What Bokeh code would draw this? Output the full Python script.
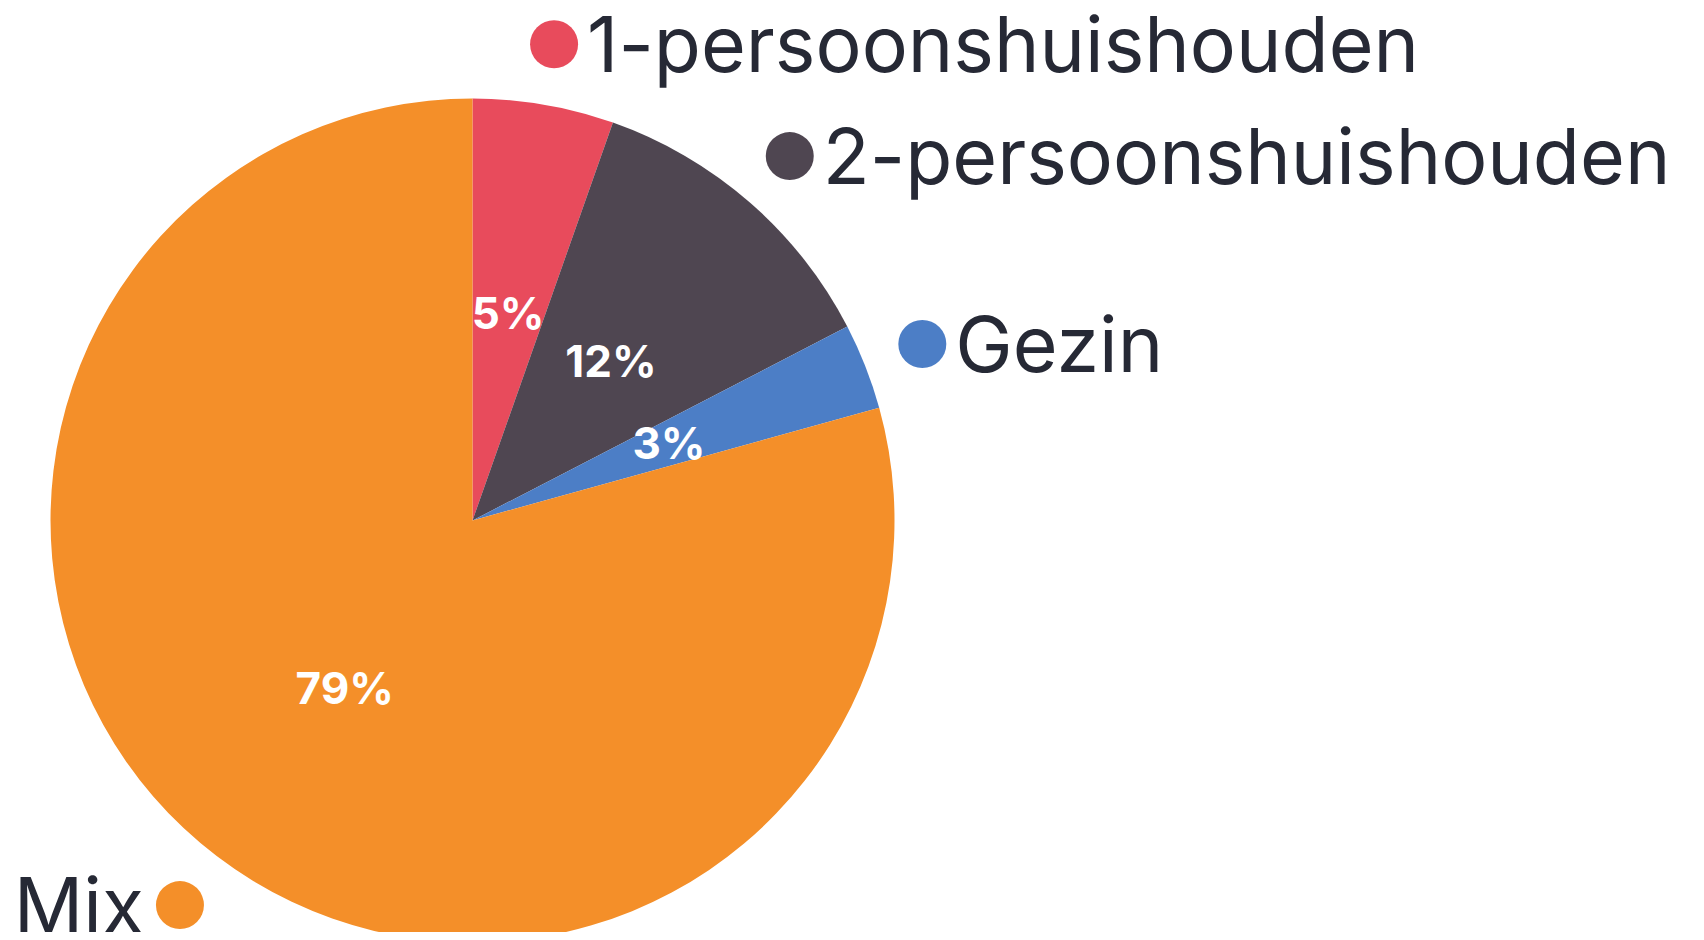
import math
from bokeh.plotting import figure
from bokeh.models import Range1d, ColumnDataSource
from bokeh.core.properties import value
from bokeh.embed import file_html
from bokeh.resources import INLINE

categories = ["1-persoonshuishouden", "2-persoonshuishouden", "Gezin", "Mix"]
shares = [5.4, 12.0, 3.3, 79.3]
colors = ["#E84B5C", "#4F4651", "#4C7EC6", "#F48F29"]

W, H = 1696, 932
p = figure(width=W, height=H, output_backend="svg", toolbar_location=None,
           x_range=Range1d(0, W), y_range=Range1d(940 - H, 940),
           min_border=0)
p.axis.visible = False
p.grid.visible = False
p.outline_line_color = None
p.background_fill_color = "white"
p.border_fill_color = "white"

cx, cy, R = 472, 420, 422
total = sum(shares)
starts, ends, mids = [], [], []
a = math.pi / 2
for s in shares:
    span = 2 * math.pi * s / total
    starts.append(a)
    ends.append(a - span)
    mids.append(a - span / 2)
    a -= span

src = ColumnDataSource(dict(start=starts, end=ends, color=colors))
p.wedge(x=cx, y=cy, radius=R, start_angle="start", end_angle="end",
        direction="clock", fill_color="color", line_color=None, source=src)

# percent labels inside
lx = [cx + 0.5 * R * math.cos(m) for m in mids]
ly = [cy + 0.5 * R * math.sin(m) for m in mids]
pct = [f"{round(s)}%" for s in shares]
p.text(x=lx, y=ly, text=pct, text_color="white", text_font=value("Inter"),
       text_font_style="bold", text_font_size="44px", text_align="center",
       text_baseline="middle")

# outside labels with dots
dx = [cx + 1.145 * R * math.cos(m) for m in mids]
dy = [cy + 1.145 * R * math.sin(m) for m in mids]
p.scatter(x=dx, y=dy, size=48, marker="circle", fill_color=colors, line_color=None)
for x, y, m, name in zip(dx, dy, mids, categories):
    right = math.cos(m) >= 0
    p.text(x=[x + (33 if right else -36)], y=[y], text=[name],
           text_color="#262935", text_font=value("Inter"), text_font_size="77px",
           text_align="left" if right else "right", text_baseline="middle")

open("out.html", "w").write(file_html(p, INLINE))
